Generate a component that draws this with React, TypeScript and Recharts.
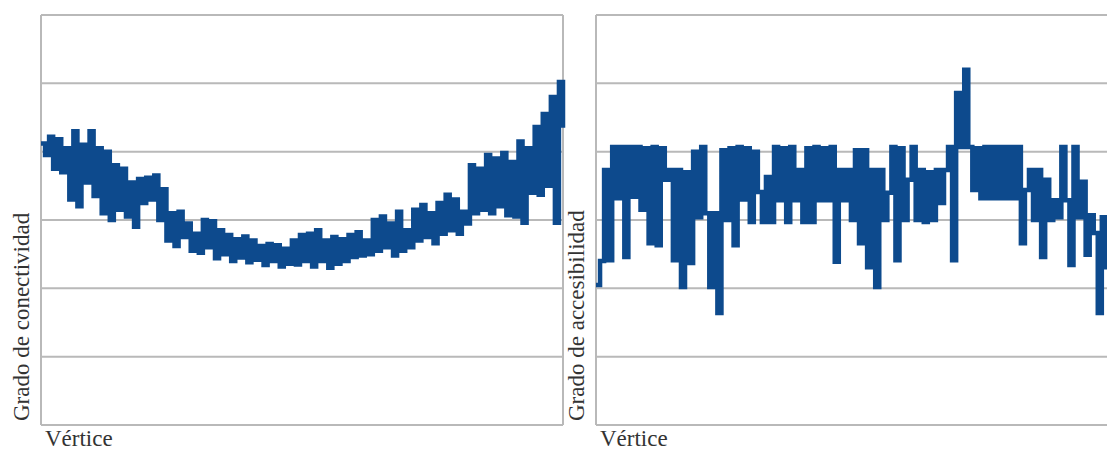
import { LineChart, Line, XAxis, YAxis, CartesianGrid } from "recharts";

// Grado de conectividad por vértice (unidades de la rejilla, 0–6)
const conectividad = [
  4.12, 3.95, 4.22, 3.75, 4.18, 3.7, 4.05, 3.3, 4.3, 3.2,
  4.1, 3.55, 4.3, 3.35, 4.05, 3.1, 4.0, 3.0, 3.8, 3.15,
  3.75, 3.05, 3.55, 2.9, 3.6, 3.25, 3.62, 3.3, 3.65, 3.0,
  3.45, 2.7, 3.1, 2.62, 3.12, 2.75, 2.95, 2.55, 2.8, 2.52,
  3.0, 2.6, 2.98, 2.44, 2.85, 2.5, 2.78, 2.4, 2.72, 2.45,
  2.76, 2.38, 2.7, 2.42, 2.62, 2.34, 2.65, 2.4, 2.63, 2.32,
  2.58, 2.36, 2.7, 2.35, 2.78, 2.4, 2.8, 2.32, 2.85, 2.4,
  2.7, 2.3, 2.75, 2.36, 2.72, 2.4, 2.78, 2.46, 2.82, 2.48,
  2.7, 2.5, 3.0, 2.55, 3.05, 2.6, 2.95, 2.48, 3.12, 2.55,
  2.85, 2.6, 3.15, 2.7, 3.22, 2.75, 3.1, 2.66, 3.25, 2.8,
  3.37, 2.85, 3.3, 2.8, 3.12, 2.95, 3.8, 3.1, 3.75, 3.15,
  3.95, 3.1, 3.9, 3.2, 3.98, 3.07, 3.85, 3.05, 4.15, 2.96,
  4.05, 3.4, 4.36, 3.37, 4.55, 3.5, 4.8, 2.96, 5.02, 4.35,
];

// Grado de accesibilidad por vértice (unidades de la rejilla, 0–6)
const accesibilidad = [
  2.05, 2.4, 3.73, 2.41, 4.07, 3.32, 4.07, 2.46, 4.07, 3.34,
  4.07, 3.15, 4.05, 2.66, 4.07, 2.63, 4.05, 3.59, 3.73, 2.41,
  3.73, 2.02, 3.7, 2.37, 4.0, 3.04, 4.07, 3.1, 2.02, 3.1,
  1.64, 4.02, 3.0, 4.05, 2.63, 4.07, 3.3, 4.05, 2.97, 4.0,
  3.41, 2.97, 3.63, 2.97, 4.07, 3.29, 4.05, 2.97, 4.07, 3.29,
  3.73, 2.97, 4.05, 2.97, 4.07, 3.29, 4.05, 3.29, 4.07, 2.39,
  3.73, 3.29, 3.73, 3.0, 4.02, 2.66, 4.02, 2.31, 3.73, 2.02,
  3.73, 3.0, 3.4, 4.07, 2.41, 4.05, 3.0, 3.59, 4.07, 3.0,
  3.73, 2.97, 3.7, 3.0, 3.73, 3.25, 3.73, 4.07, 2.41, 4.86,
  4.07, 5.2, 4.07, 3.44, 4.05, 3.32, 4.07, 3.32, 4.07, 3.32,
  4.07, 3.32, 4.07, 3.32, 4.07, 2.66, 3.44, 3.73, 3.0, 3.73,
  2.46, 3.59, 3.0, 3.29, 3.04, 4.07, 3.29, 2.34, 4.07, 3.04,
  3.56, 2.49, 3.07, 2.81, 1.64, 3.04, 2.31, 3.0, 2.6, 2.8,
];

const yTicks = [0, 1, 2, 3, 4, 5, 6];

const LINE = "#0d4a8d";
const GRID = "#b9b9b9";
const TEXT = "#333333";
const FONT = '"Liberation Serif", "Times New Roman", Times, "DejaVu Serif", serif';

function Panel({
  values,
  left,
  yLabel,
}: {
  values: number[];
  left: number;
  yLabel: string;
}) {
  const data = values.map((v, i) => ({ i, v }));
  const last = values.length - 1;
  return (
    <>
      <div style={{ position: "absolute", left, top: 0 }}>
        <LineChart
          width={570}
          height={453}
          data={data}
          margin={{ top: 15, right: 7, bottom: 28, left: 41 }}
        >
          <CartesianGrid stroke={GRID} strokeWidth={2} />
          <XAxis dataKey="i" type="number" domain={[0, last]} ticks={[0, last]} hide />
          <YAxis type="number" domain={[0, 6]} ticks={yTicks} hide />
          <Line
            type="stepAfter"
            dataKey="v"
            stroke={LINE}
            strokeWidth={4.5}
            dot={false}
            isAnimationActive={false}
          />
        </LineChart>
      </div>
      <div
        style={{
          position: "absolute",
          left: left + 10,
          top: 421,
          transform: "rotate(-90deg)",
          transformOrigin: "left top",
          whiteSpace: "nowrap",
          fontFamily: FONT,
          fontSize: 23,
          lineHeight: "24px",
          color: TEXT,
        }}
      >
        {yLabel}
      </div>
      <div
        style={{
          position: "absolute",
          left: left + 45,
          top: 427,
          fontFamily: FONT,
          fontSize: 23,
          lineHeight: "24px",
          color: TEXT,
        }}
      >
        Vértice
      </div>
    </>
  );
}

export default function App() {
  return (
    <div
      style={{
        position: "fixed",
        left: 0,
        top: 0,
        width: 1107,
        height: 453,
        overflow: "hidden",
        background: "#fff",
      }}
    >
      <Panel values={conectividad} left={0} yLabel="Grado de conectividad" />
      <Panel values={accesibilidad} left={555} yLabel="Grado de accesibilidad" />
    </div>
  );
}
